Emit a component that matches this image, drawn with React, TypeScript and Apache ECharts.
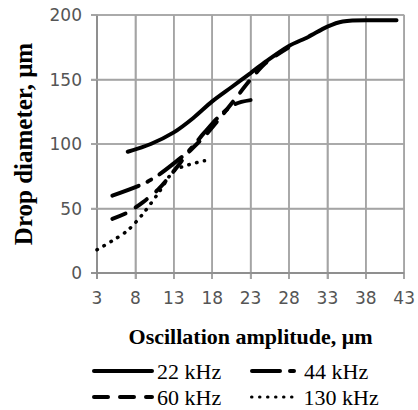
import React, { useEffect, useRef } from "react";
import * as echarts from "echarts";

const seriesNames = ["22 kHz", "44 kHz", "60 kHz", "130 kHz"];

const khz22: [number, number][] = [
  [7, 94], [10, 100], [13, 109], [15.5, 120], [18, 133], [20.5, 144], [23, 155],
  [25, 164], [28, 176], [30.5, 183], [33, 191], [35, 195], [38, 196], [42, 196],
];
const khz44: [number, number][] = [
  [5, 60], [9, 69], [11, 76], [13, 85], [15, 95], [17, 109], [19, 122], [21, 131], [23, 134],
];
const khz60: [number, number][] = [
  [5, 42], [7, 47], [9, 55], [11, 65], [13, 79], [15, 94], [17, 106], [19, 120],
  [21, 135], [23, 150], [25, 163], [28, 175],
];
const khz130: [number, number][] = [
  [3, 18], [5, 25], [7, 33], [9, 46], [11, 62], [13, 79], [15, 84], [17, 87],
];

const xTicks = [3, 8, 13, 18, 23, 28, 33, 38, 43];
const yTicks = [0, 50, 100, 150, 200];

const xName = "Oscillation amplitude, μm";
const yName = "Drop diameter, μm";

export default function App() {
  const ref = useRef<HTMLDivElement>(null);
  useEffect(() => {
    document.body.style.margin = "0";
    const chart = echarts.init(ref.current!, null, { renderer: "svg" });
    const axisGray = "#8c8c8c";
    const gridGray = "#a4a4a4";
    const labelStyle = { color: "#555", fontFamily: "DejaVu Sans", fontSize: 17 };
    const nameStyle = { color: "#000", fontFamily: "Liberation Serif", fontWeight: "bold", fontSize: 22 };
    const legendText = { color: "#000", fontFamily: "Liberation Serif", fontSize: 22 };
    const dashes: any[] = ["solid", [28, 10, 4, 10], [14, 12], [0.5, 7.5]];
    const widths = [4, 4, 4, 3.5];
    const datas = [khz22, khz44, khz60, khz130];
    const xMin = xTicks[0];
    const xMax = xTicks[xTicks.length - 1];
    const yMin = yTicks[0];
    const yMax = yTicks[yTicks.length - 1];
    const tickLen = 6;
    const lw = 1.5;
    const axisCommon = {
      type: "value",
      axisLine: { show: true, lineStyle: { color: axisGray, width: lw } },
      axisTick: { show: true, length: tickLen, lineStyle: { color: axisGray, width: lw } },
      splitLine: { show: true, lineStyle: { color: gridGray, width: lw } },
    };
    const legendCommon = {
      itemHeight: 14,
      textStyle: legendText,
      itemStyle: { opacity: 0 },
    };
    const gridX = {
      type: "custom",
      silent: true,
      clip: false,
      z: 1,
      data: xTicks.map((v) => [v, yMin]),
      renderItem: (_p: any, api: any) => {
        const v = api.value(0);
        const a = api.coord([v, yMin]);
        const b = api.coord([v, yMax]);
        return {
          type: "group",
          children: [
            { type: "rect", shape: { x: a[0] - lw / 2, y: b[1], width: lw, height: a[1] - b[1] + tickLen },
              style: { fill: v === xMin ? axisGray : gridGray } },
          ],
        };
      },
    };
    const gridY = {
      type: "custom",
      silent: true,
      clip: false,
      z: 1,
      data: yTicks.map((v) => [xMin, v]),
      renderItem: (_p: any, api: any) => {
        const v = api.value(1);
        const a = api.coord([xMin, v]);
        const b = api.coord([xMax, v]);
        return {
          type: "group",
          children: [
            { type: "rect", shape: { x: a[0] - tickLen, y: a[1] - lw / 2, width: b[0] - a[0] + tickLen, height: lw },
              style: { fill: v === yMin ? axisGray : gridGray } },
          ],
        };
      },
    };
    chart.setOption({
      animation: false,
      grid: { left: 97, right: 12, top: 15, bottom: 137 },
      xAxis: {
        ...axisCommon,
        min: xMin,
        max: xMax,
        interval: xTicks[1] - xTicks[0],
        axisLabel: { ...labelStyle, margin: 16 },
        name: xName,
        nameLocation: "middle",
        nameGap: 52,
        nameTextStyle: nameStyle,
      },
      yAxis: {
        ...axisCommon,
        min: yMin,
        max: yMax,
        interval: yTicks[1] - yTicks[0],
        axisLabel: { ...labelStyle, margin: 15 },
        name: yName,
        nameLocation: "middle",
        nameGap: 61,
        nameTextStyle: { ...nameStyle, fontSize: 25 },
      },
      legend: [
        { ...legendCommon, left: 87, top: 355, itemWidth: 58, data: [seriesNames[0]], lineStyle: { width: 4 } },
        { ...legendCommon, left: 245, top: 355, itemWidth: 47, data: [seriesNames[1]], lineStyle: { width: 4 } },
        { ...legendCommon, left: 87, top: 381, itemWidth: 58, data: [seriesNames[2]], lineStyle: { width: 4 } },
        { ...legendCommon, left: 245, top: 381, itemWidth: 47, data: [seriesNames[3]], lineStyle: { width: 3 } },
      ],
      series: [
        gridX,
        gridY,
        ...seriesNames.map((n, i) => ({
          name: n,
          type: "line",
          z: 3,
          data: datas[i],
          smooth: 0.3,
          symbol: "none",
          showSymbol: false,
          color: "#000",
          lineStyle: { color: "#000", width: widths[i], type: dashes[i], cap: "round" },
        })),
      ],
    });
    return () => chart.dispose();
  }, []);
  return <div ref={ref} style={{ width: 418, height: 410, background: "#fff" }} />;
}
